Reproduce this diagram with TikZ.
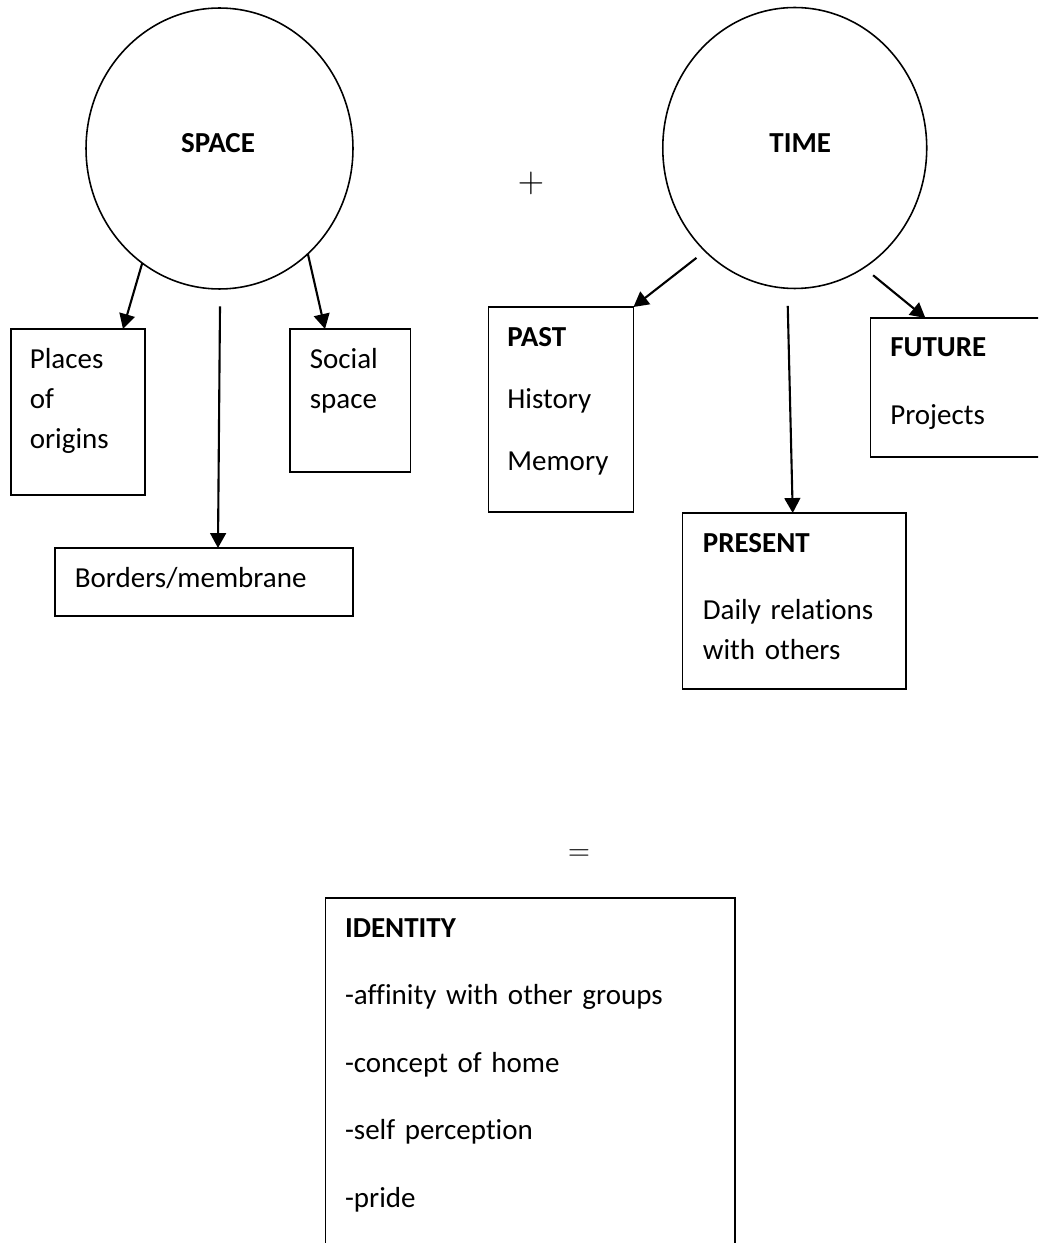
\documentclass[tikz,border=0pt]{standalone}
\usepackage[no-math]{fontspec}
\setmainfont{Carlito}[Ligatures={TeX,NoCommon}]
\usetikzlibrary{arrows.meta,shapes.geometric}
\begin{document}
\begin{tikzpicture}[x=0.02cm,y=-0.02cm,
    blob/.style={draw,ellipse,line width=0.9pt,inner sep=0pt,outer sep=0pt},
    frame/.style={draw,rectangle,line width=0.9pt,inner sep=0pt,outer sep=0pt,anchor=north west},
    words/.style={anchor=base west,inner sep=0pt,align=left,text width=#1,
      font=\fontsize{16.5pt}{22.8pt}\selectfont},
    title/.style={anchor=base,inner sep=0pt,font=\fontsize{16.5pt}{22.8pt}\selectfont\bfseries},
    sign/.style={inner sep=0pt,font=\fontsize{#1}{#1}\selectfont},
    link/.style={-{Triangle[length=8.5pt,width=9pt]},line width=1.2pt}]
\clip (0,0) rectangle (1038,1243);

% Drawing circle SPACE
\node[blob,minimum width=5.34cm,minimum height=5.62cm] (space) at (219.5,148.5) {};
\node[title] (spaceT) at ([shift={(-1.5,4.5)}]space.center) {SPACE};

% Drawing circle TIME
\node[blob,minimum width=5.28cm,minimum height=5.62cm] (time) at (794.75,148) {};
\node[title] (timeT) at ([shift={(5.5,5)}]time.center) {TIME};

% Marking sign +
\node[sign=20pt] (plus) at (531,183) {$+$};

% Drawing box Places of origins
\node[frame,minimum width=2.68cm,minimum height=3.32cm] (places) at (11,329) {};
\node[words=2.4cm] (placesT) at ([shift={(18.5,39)}]places.north west) {Places\\of\\origins};

% Drawing box Social space
\node[frame,minimum width=2.41cm,minimum height=2.86cm] (social) at (290,329) {};
\node[words=2.2cm] (socialT) at ([shift={(19.5,39)}]social.north west) {Social\\space};

% Drawing box Borders/membrane
\node[frame,minimum width=5.96cm,minimum height=1.36cm] (borders) at (55,548) {};
\node[words=5.5cm] (bordersT) at ([shift={(19.5,39)}]borders.north west) {Borders/membrane};

% Drawing box PAST
\node[frame,minimum width=2.90cm,minimum height=4.10cm] (past) at (488.5,307) {};
\node[words=2.6cm] (pastT) at ([shift={(18.5,39)}]past.north west)
  {\textbf{PAST}\\[0.44cm]History\\[0.44cm]Memory};

% Drawing box PRESENT
\node[frame,minimum width=4.47cm,minimum height=3.52cm] (present) at (682.5,513) {};
\node[words=4.2cm] (presentT) at ([shift={(20,39)}]present.north west)
  {\textbf{PRESENT}\\[0.54cm]Daily relations\\with others};

% Drawing box FUTURE
\node[frame,minimum width=3.6cm,minimum height=2.78cm] (future) at (870.4,318) {};
\node[words=3.2cm] (futureT) at ([shift={(19.5,39)}]future.north west)
  {\textbf{FUTURE}\\[0.54cm]Projects};

% Drawing arrows from SPACE
\draw[link] (space.236) -- ([shift={(-22,0)}]places.north east);
\draw[link] ([shift={(0.5,17.5)}]space.south) -- ([shift={(14,0)}]borders.north);
\draw[link] (space.310) -- ([shift={(35,0)}]social.north west);

% Drawing arrows from TIME
\draw[link,shorten <=0.22cm] (time.229) -- (past.north east);
\draw[link] ([shift={(-7,17.5)}]time.south) -- ([shift={(-1.5,0)}]present.north);
\draw[link,shorten <=0.24cm] (time.300) -- ([shift={(55,0)}]future.north west);

% Marking sign =
\node[sign=16pt] (equals) at (579,855) {$=$};

% Drawing box IDENTITY
\node[frame,minimum width=8.19cm,minimum height=7.24cm] (identity) at (325.7,898) {};
\node[words=7.5cm] (identityT) at ([shift={(19,39)}]identity.north west)
  {\textbf{IDENTITY}\\[0.55cm]-affinity with other groups\\[0.55cm]-concept of home\\[0.55cm]-self perception\\[0.55cm]-pride};
\end{tikzpicture}
\end{document}
